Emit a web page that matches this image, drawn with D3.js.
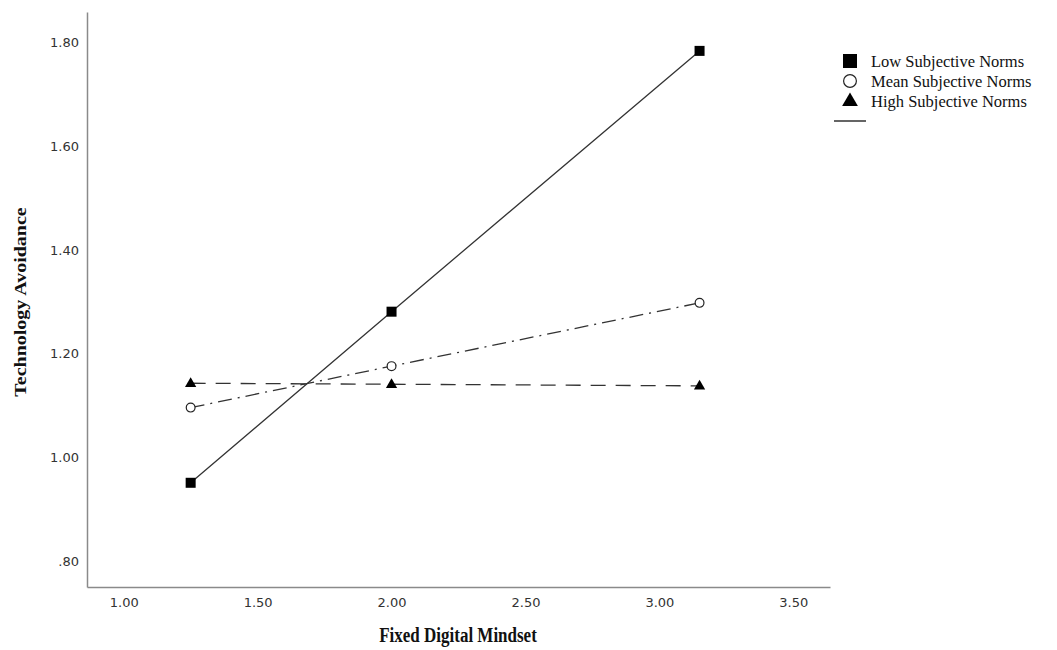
<!DOCTYPE html>
<html>
<head>
<meta charset="utf-8">
<script src="https://cdn.jsdelivr.net/npm/d3@7"></script>
<style>
  body { margin: 0; background: #fff; }
  svg { display: block; }
  .tick text { font-family: "DejaVu Sans", sans-serif; font-size: 13px; fill: #333; }
  .title { font-family: "Liberation Serif", serif; font-weight: bold; font-size: 20px; fill: #111; }
  .legend text { font-family: "Liberation Serif", serif; font-size: 16.5px; fill: #111; }
</style>
</head>
<body>
<svg id="chart" width="1057" height="650"></svg>
<script>
// data
var xValues = [1.25, 2.00, 3.15];
var lowNorms = [0.951, 1.281, 1.784];
var meanNorms = [1.096, 1.176, 1.298];
var highNorms = [1.143, 1.141, 1.138];
var xTicks = [1.00, 1.50, 2.00, 2.50, 3.00, 3.50];
var yTicks = [0.80, 1.00, 1.20, 1.40, 1.60, 1.80];
var seriesNames = ['Low Subjective Norms', 'Mean Subjective Norms', 'High Subjective Norms'];

var svg = d3.select('#chart');

var x = d3.scaleLinear().domain([0.863, 3.637]).range([87, 830]),
    y = d3.scaleLinear().domain([0.75, 1.859]).range([587, 12]);

var fmtY = function (d) { return d < 1 ? d3.format('.2f')(d).replace(/^0/, '') : d3.format('.2f')(d); };

// axes (no tick marks, grey lines)
var xAxis = svg.append('g')
    .attr('transform', 'translate(0,587)')
    .call(d3.axisBottom(x).tickValues(xTicks).tickFormat(d3.format('.2f')).tickSize(0).tickPadding(11));
var yAxis = svg.append('g')
    .attr('transform', 'translate(87,0)')
    .call(d3.axisLeft(y).tickValues(yTicks).tickFormat(fmtY).tickSize(0).tickPadding(8));

[xAxis, yAxis].forEach(function (a) {
    a.select('.domain').attr('stroke', '#8a8a8a').attr('stroke-width', 1.5);
});

// titles are a little narrow in the source, squeeze them horizontally
svg.append('text').attr('class', 'title')
    .attr('transform', 'translate(458,642) scale(0.85,1)').attr('text-anchor', 'middle')
    .text('Fixed Digital Mindset');
svg.append('text').attr('class', 'title')
    .attr('transform', 'translate(26,302) scale(0.85,1) rotate(-90)').attr('text-anchor', 'middle')
    .text('Technology Avoidance');

var line = d3.line().x(function (d) { return x(d[0]); }).y(function (d) { return y(d[1]); });

var series = [
    { name: seriesNames[0], vals: lowNorms, dash: null, marker: 'square' },
    { name: seriesNames[1], vals: meanNorms, dash: '14,6,2,6', marker: 'circle' },
    { name: seriesNames[2], vals: highNorms, dash: '15,10', marker: 'triangle' }
];

function drawMarker(g, type, cx, cy, s) {
    if (type === 'square') {
        g.append('rect').attr('x', cx - s / 2).attr('y', cy - s / 2)
            .attr('width', s).attr('height', s).attr('fill', '#000');
    } else if (type === 'circle') {
        g.append('circle').attr('cx', cx).attr('cy', cy).attr('r', s / 2 - 0.6)
            .attr('fill', '#fff').attr('stroke', '#222').attr('stroke-width', 1.2);
    } else {
        g.append('path')
            .attr('d', d3.symbol().type(d3.symbolTriangle).size(s * s * 0.55)())
            .attr('transform', 'translate(' + cx + ',' + (cy + 0.5) + ')')
            .attr('fill', '#000');
    }
}

var plot = svg.append('g');
series.forEach(function (s) {
    var pts = xValues.map(function (v, i) { return [v, s.vals[i]]; });
    plot.append('path').datum(pts)
        .attr('d', line)
        .attr('fill', 'none')
        .attr('stroke', '#333')
        .attr('stroke-width', 1.3)
        .attr('stroke-dasharray', s.dash);
});
series.forEach(function (s) {
    xValues.forEach(function (v, i) {
        drawMarker(plot, s.marker, x(v), y(s.vals[i]), 10);
    });
});

// legend
var legend = svg.append('g').attr('class', 'legend');
series.forEach(function (s, i) {
    var ly = 61 + i * 20;
    drawMarker(legend, s.marker, 850, ly, 14);
    legend.append('text').attr('x', 871).attr('y', ly + 5.5).text(s.name);
});
legend.append('line').attr('x1', 834).attr('x2', 866).attr('y1', 121).attr('y2', 121)
    .attr('stroke', '#111').attr('stroke-width', 1.3);
</script>
</body>
</html>
